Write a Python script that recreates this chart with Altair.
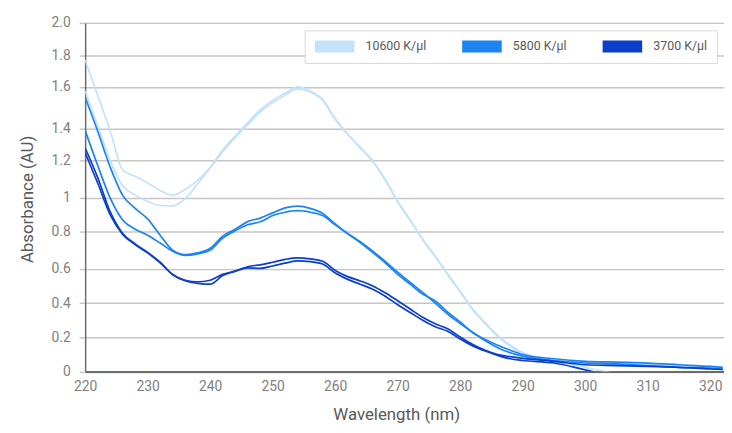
import altair as alt
import pandas as pd

# ---------------- data ----------------
wavelength = [220, 222, 224, 226, 228, 230, 232, 234, 236, 238, 240, 242, 244, 246, 248,
              250, 252, 254, 256, 258, 260, 262, 264, 266, 268, 270, 272, 274, 276, 278,
              280, 282, 284, 286, 288, 290, 295, 300, 305, 310, 315, 320, 322]

c10600_a = [1.77, 1.56, 1.39, 1.15, 1.116, 1.08, 1.04, 1.014, 1.045, 1.094, 1.165, 1.267, 1.356, 1.43, 1.49,
            1.535, 1.57, 1.60, 1.58, 1.54, 1.45, 1.37, 1.285, 1.20, 1.10, 0.98, 0.87, 0.76, 0.668, 0.57,
            0.47, 0.365, 0.285, 0.212, 0.154, 0.112, 0.065, 0.055, 0.045, 0.04, 0.035, 0.03, 0.025]
c10600_b = [1.58, 1.417, 1.20, 1.065, 1.015, 0.98, 0.955, 0.953, 0.996, 1.076, 1.16, 1.255, 1.345, 1.42, 1.48,
            1.525, 1.56, 1.59, 1.575, 1.535, 1.445, 1.365, 1.28, 1.195, 1.095, 0.975, 0.865, 0.755, 0.665, 0.565,
            0.465, 0.36, 0.28, 0.205, 0.148, 0.105, 0.06, 0.025, -0.01, -0.02, -0.02, -0.02, -0.02]
c5800_a = [1.55, 1.387, 1.166, 1.014, 0.938, 0.875, 0.78, 0.70, 0.676, 0.685, 0.71, 0.775, 0.814, 0.859, 0.88,
           0.911, 0.941, 0.951, 0.938, 0.908, 0.845, 0.788, 0.741, 0.688, 0.632, 0.567, 0.51, 0.452, 0.413, 0.347,
           0.29, 0.227, 0.188, 0.154, 0.125, 0.10, 0.075, 0.06, 0.055, 0.05, 0.04, 0.03, 0.025]
c5800_b = [1.39, 1.175, 1.0, 0.869, 0.814, 0.78, 0.738, 0.694, 0.672, 0.68, 0.70, 0.765, 0.805, 0.84, 0.858,
           0.895, 0.915, 0.924, 0.915, 0.895, 0.84, 0.79, 0.745, 0.695, 0.64, 0.58, 0.52, 0.462, 0.40, 0.335,
           0.28, 0.23, 0.18, 0.14, 0.11, 0.09, 0.065, 0.05, 0.045, 0.035, 0.025, 0.02, 0.015]
c3700_a = [1.28, 1.11, 0.918, 0.79, 0.734, 0.688, 0.635, 0.567, 0.533, 0.524, 0.533, 0.567, 0.586, 0.611, 0.621,
           0.635, 0.65, 0.658, 0.653, 0.64, 0.59, 0.554, 0.529, 0.50, 0.46, 0.413, 0.365, 0.317, 0.279, 0.25,
           0.202, 0.158, 0.125, 0.10, 0.087, 0.077, 0.06, 0.04, 0.035, 0.03, 0.025, 0.015, 0.012]
c3700_b = [1.25, 1.08, 0.90, 0.785, 0.73, 0.685, 0.632, 0.565, 0.53, 0.515, 0.51, 0.56, 0.585, 0.605, 0.602,
           0.615, 0.63, 0.642, 0.638, 0.625, 0.575, 0.538, 0.51, 0.48, 0.44, 0.39, 0.345, 0.30, 0.262, 0.235,
           0.19, 0.15, 0.12, 0.095, 0.075, 0.065, 0.05, 0.01, -0.03, -0.03, -0.03, -0.03, -0.03]

series_names = ["10600 K/μl", "5800 K/μl", "3700 K/μl"]
series_colors = ["#c2e3fa", "#1b84f2", "#0b3ecb"]
replicates = [[c10600_a, c10600_b], [c5800_a, c5800_b], [c3700_a, c3700_b]]

x_ticks = [220, 230, 240, 250, 260, 270, 280, 290, 300, 310, 320]
y_ticks = [0, 0.2, 0.4, 0.6, 0.8, 1.0, 1.2, 1.4, 1.6, 1.8, 2.0]
y_tick_labels = ["0", "0.2", "0.4", "0.6", "0.8", "1", "1.2", "1.4", "1.6", "1.8", "2.0"]

# ---------------- table ----------------
rows = []
for name, reps in zip(series_names, replicates):
    for i, vals in enumerate(reps):
        for w, v in zip(wavelength, vals):
            rows.append({"wl": w, "a": v, "series": name, "rep": f"{name}-{i}"})
df = pd.DataFrame(rows)
legend_df = pd.DataFrame({"series": series_names, "wl": [100] * 3, "a": [0.5] * 3})

# ---------------- layout ----------------
W = 646
H = 352.6
# the reference's y axis is unevenly spaced: piecewise scale
y_range = [352.6, 318.0, 283.3, 248.6, 211.0, 177.0, 139.3, 107.3, 64.6, 32.6, 0]

FONT = "Roboto"
x_scale = alt.Scale(domain=[220, 322.2], nice=False, zero=False)
y_scale = alt.Scale(domain=y_ticks, range=y_range, nice=False, zero=False)
color_scale = alt.Scale(domain=series_names, range=series_colors)

label_expr = "[" + ",".join(f"'{s}'" for s in y_tick_labels) + "][round(datum.value*5)]"

x_axis = alt.Axis(values=x_ticks, grid=False, ticks=False, domainColor="#6b6b6b", domainWidth=2,
                  labelFont=FONT, labelFontSize=14, labelColor="#808080", labelPadding=8,
                  labelFlush=False, labelOverlap=False,
                  title="Wavelength (nm)", titleFont=FONT, titleFontSize=17, titleFontWeight="normal",
                  titleColor="#595959", titleX=314.5, titleY=48, titleBaseline="alphabetic")
y_axis = alt.Axis(values=y_ticks, grid=True, gridColor="#c6c6c6", gridWidth=1.5,
                  ticks=True, tickColor="#c6c6c6", tickSize=6, tickWidth=1.5,
                  domainColor="#6b6b6b", domainWidth=1.5,
                  labelExpr=label_expr, labelFont=FONT, labelFontSize=14, labelColor="#808080",
                  labelPadding=9, labelOverlap=False, labelFlush=False,
                  title="Absorbance (AU)", titleFont=FONT, titleFontSize=17, titleFontWeight="normal",
                  titleColor="#595959", titleX=-58, titleY=178, titleAngle=270, titleBaseline="middle")

lines = alt.Chart(df).mark_line(strokeWidth=1.7, clip=True, interpolate="monotone").encode(
    x=alt.X("wl:Q", scale=x_scale, axis=x_axis),
    y=alt.Y("a:Q", scale=y_scale, axis=y_axis),
    color=alt.Color("series:N", scale=color_scale, legend=None),
    detail="rep:N",
)

legend_layer = alt.Chart(legend_df).mark_square(filled=True, clip=True, opacity=1).encode(
    x=alt.X("wl:Q", scale=x_scale, axis=x_axis),
    y=alt.Y("a:Q", scale=y_scale, axis=y_axis),
    fill=alt.Fill("series:N", scale=color_scale, sort=series_names,
                  legend=alt.Legend(title=None, orient="none", legendX=222, legendY=7.5,
                                    direction="horizontal",
                                    symbolType="M-3.333,-1H3.333V1H-3.333Z", symbolSize=144,
                                    symbolOffset=14, symbolStrokeWidth=0, symbolOpacity=1,
                                    labelOffset=25, labelFont=FONT, labelFontSize=12.5,
                                    labelColor="#595959", padding=10, columnPadding=36,
                                    strokeColor="#d9d9d9", fillColor="white")),
)

chart = alt.layer(lines, legend_layer).resolve_scale(fill="independent").properties(
    width=W, height=H,
    autosize=alt.AutoSizeParams(type="none"),
    padding={"left": 78, "top": 12.7, "right": 0, "bottom": 56},
).configure_view(stroke=None).configure(background="white")

chart.save("out.html", embed_options={"renderer": "svg", "actions": False})
